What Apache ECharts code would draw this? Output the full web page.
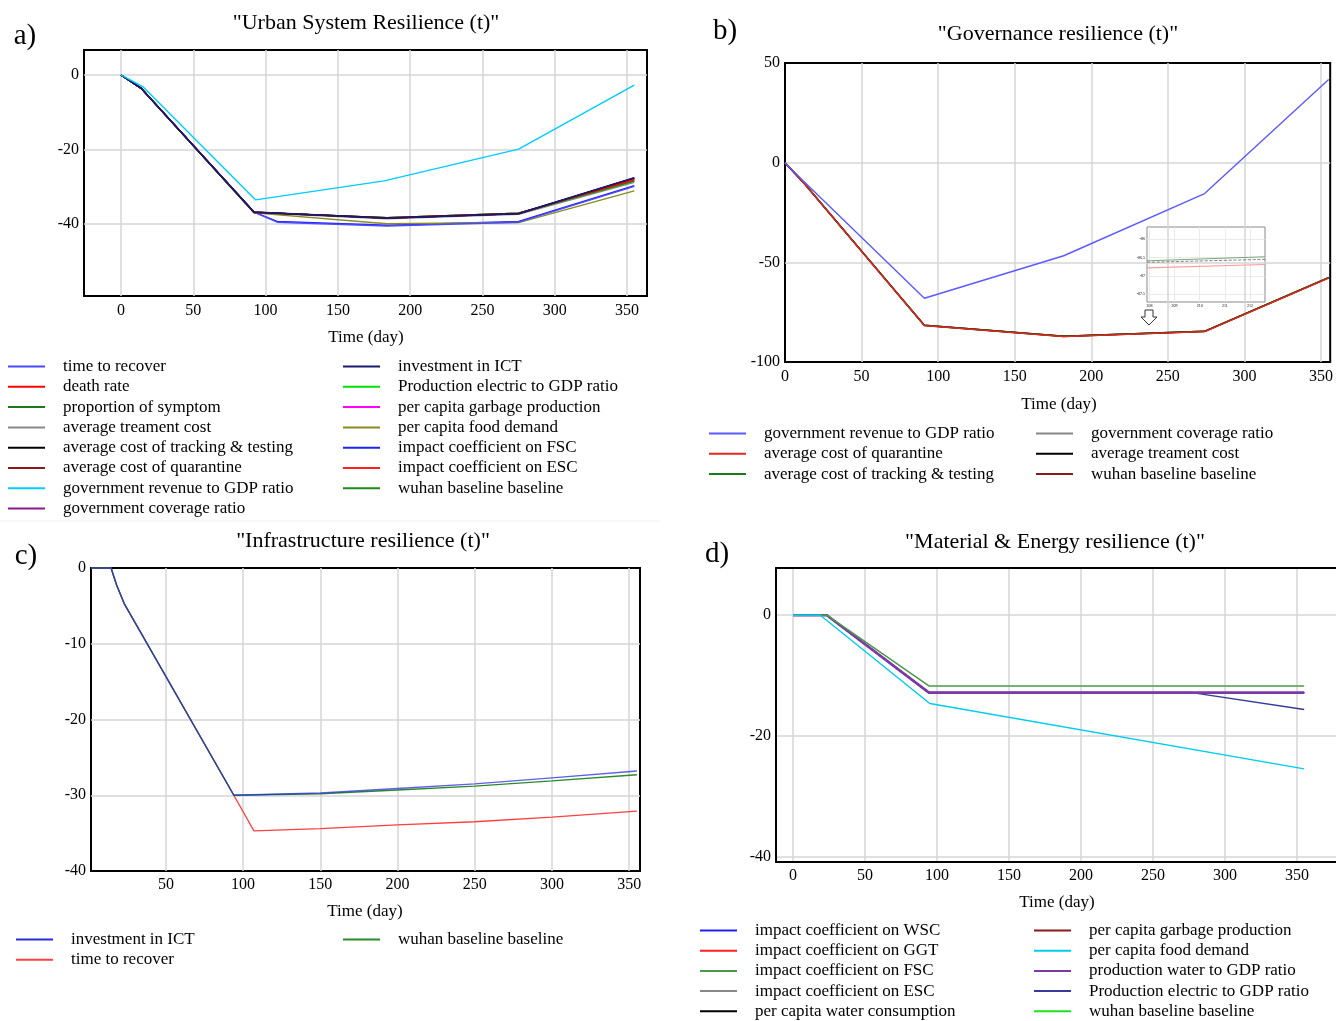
<!DOCTYPE html>
<html><head><meta charset="utf-8">
<script src="https://cdn.jsdelivr.net/npm/echarts@6/dist/echarts.min.js"></script>
<style>html,body{margin:0;padding:0;background:#fff}#c{width:1336px;height:1021px}</style>
</head><body><div id="c"></div>
<script>
// ---------- tick labels ----------
const TICKS_X = [0, 50, 100, 150, 200, 250, 300, 350];
const TICKS_X_C = [50, 100, 150, 200, 250, 300, 350];
const TICKS_Y_A = [-40, -20, 0];
const TICKS_Y_B = [-100, -50, 0, 50];
const TICKS_Y_C = [-40, -30, -20, -10, 0];
const TICKS_Y_D = [-40, -20, 0];
const TICKS_X_INSET = [208, 209, 210, 211, 212];
const TICKS_Y_INSET = [-87.5, -87, -86.5, -86];
// gridline positions where they differ from the labels (edge values sit on the frame)
const GRID_X_B = [50, 100, 150, 200, 250, 300, 350];
const GRID_Y_B = [-50, 0];
const GRID_Y_C = [-30, -20, -10];

// ---------- panel a : Urban System Resilience ----------
const A_DAYS = [0, 14, 92, 184, 275, 355];
const A_DAYS_LOW = [0, 14, 92, 108, 184, 275, 355];
const A_DAYS_CYAN = [0, 15, 93, 182, 275, 355];
const A_proportionSymptom = [0, -3.6, -36.9, -38.3, -37.1, -28.4];
const A_treatmentCost = [0, -3.6, -37.0, -38.6, -37.4, -28.8];
const A_quarantine = [0, -3.6, -36.8, -38.4, -37.2, -27.8];
const A_coverage = [0, -3.6, -36.8, -38.4, -37.2, -27.7];
const A_electric = [0, -3.6, -36.9, -38.3, -37.1, -28.5];
const A_garbage = [0, -3.6, -36.8, -38.4, -37.2, -27.8];
const A_ESC = [0, -3.6, -36.8, -38.4, -37.2, -28.0];
const A_FSC = [0, -3.6, -36.8, -39.3, -40.3, -39.3, -29.7];
const A_food = [0, -3.6, -37.0, -39.9, -39.6, -31.1];
const A_timeRecover = [0, -3.6, -36.8, -39.5, -40.5, -39.5, -29.9];
const A_baseline = [0, -3.6, -36.9, -38.3, -37.1, -28.5];
const A_deathRate = [0, -3.6, -36.9, -38.3, -37.1, -28.1];
const A_tracking = [0, -3.6, -36.8, -38.4, -37.2, -27.6];
const A_ICT = [0, -3.6, -36.8, -38.4, -37.2, -27.6];
const A_revenue = [0, -3.1, -33.5, -28.4, -19.9, -2.7];

// ---------- panel b : Governance resilience ----------
const B_DAYS = [0, 13, 91, 182, 274, 355];
const B_DAYS_BLUE = [0, 12, 91, 182, 274, 355];
const B_coverage = [0, -10.8, -81.6, -87.1, -84.6, -57.7];
const B_treatment = [0, -10.8, -81.6, -87.1, -84.6, -57.7];
const B_tracking = [0, -10.7, -81.5, -87.0, -84.5, -57.6];
const B_baseline = [0, -10.8, -81.7, -87.2, -84.7, -57.8];
const B_quarantine = [0, -10.9, -81.8, -87.3, -84.8, -57.9];
const B_revenue = [0, -9.2, -68.0, -46.7, -15.5, 41.7];
// inset (zoom of days 208-212)
const INSET_DAYS = [207.9, 212.6];
const INSET_green = [-86.59, -86.48];
const INSET_gray = [-86.63, -86.55];
const INSET_red = [-86.78, -86.69];

// ---------- panel c : Infrastructure resilience ----------
const C_DAYS = [1.5, 14.5, 18, 23, 94, 150, 200, 250, 300, 355];
const C_DAYS_RED = [1.5, 14.5, 18, 23, 94, 107, 150, 200, 250, 300, 355];
const C_ICT = [0, 0, -2.2, -4.7, -30, -29.7, -29.1, -28.5, -27.7, -26.8];
const C_baseline = [0, 0, -2.2, -4.7, -30, -29.8, -29.3, -28.8, -28.1, -27.3];
const C_timeRecover = [0, 0, -2.2, -4.7, -30, -34.7, -34.4, -33.9, -33.5, -32.9, -32.1];

// ---------- panel d : Material & Energy resilience ----------
const D_DAYS = [0, 23.5, 94.4, 355];
const D_DAYS_NAVY = [0, 23.5, 94.4, 277, 355];
const D_DAYS_CYAN = [0, 19, 95, 355];
const D_WSC = [0, 0, -12.8, -12.8];
const D_GGT = [0, 0, -12.8, -12.8];
const D_ESC = [0, 0, -12.8, -12.8];
const D_water = [0, 0, -12.8, -12.8];
const D_garbage = [0, 0, -12.8, -12.8];
const D_baseline = [0, 0, -12.8, -12.8];
const D_electric = [0, 0, -12.8, -12.8, -15.6];
const D_prodWater = [0, 0, -12.8, -12.8];
const D_FSC = [0, 0, -11.7, -11.7];
const D_food = [0, 0, -14.6, -25.4];

// ---------- legends (names) ----------
const LEG_A1 = ['time to recover#a','death rate#a','proportion of symptom#a','average treament cost#a','average cost of tracking & testing#a','average cost of quarantine#a','government revenue to GDP ratio#a','government coverage ratio#a'];
const LEG_A2 = ['investment in ICT#a','Production electric to GDP ratio#a','per capita garbage production#a','per capita food demand#a','impact coefficient on FSC#a','impact coefficient on ESC#a','wuhan baseline baseline#a'];
const LEG_B1 = ['government revenue to GDP ratio#b','average cost of quarantine#b','average cost of tracking & testing#b'];
const LEG_B2 = ['government coverage ratio#b','average treament cost#b','wuhan baseline baseline#b'];
const LEG_C1 = ['investment in ICT#c','time to recover#c'];
const LEG_C2 = ['wuhan baseline baseline#c'];
const LEG_D1 = ['impact coefficient on WSC#d','impact coefficient on GGT#d','impact coefficient on FSC#d','impact coefficient on ESC#d','per capita water consumption#d'];
const LEG_D2 = ['per capita garbage production#d','per capita food demand#d','production water to GDP ratio#d','Production electric to GDP ratio#d','wuhan baseline baseline#d'];

const FONT = 'Liberation Serif';
const zip = (xs, ys) => xs.map((x, i) => [x, ys[i]]);

function ln(name, g, days, vals, color, width, extra) {
  return Object.assign({
    type: 'line', name: name, xAxisIndex: g, yAxisIndex: g,
    data: zip(days, vals), symbol: 'none', showSymbol: false, silent: true,
    animation: false,
    lineStyle: { color: color, width: width || 1.4 },
    itemStyle: { color: color }
  }, extra || {});
}

function xAx(g, min, max, ticks, opt) {
  opt = opt || {};
  return {
    type: 'value', gridIndex: g, min: min, max: max,
    axisLine: opt.line ? { show: true, onZero: false, lineStyle: { color: '#000', width: 2 } } : { show: false },
    axisTick: { show: false, customValues: opt.grid || ticks },
    axisLabel: { customValues: ticks, color: '#000', fontFamily: FONT, fontSize: opt.fs || 16, margin: opt.margin || 7 },
    splitLine: { show: true, lineStyle: { color: opt.gc || '#d6d6d6', width: opt.gw || 1.5 } }
  };
}
function yAx(g, min, max, ticks, opt) {
  opt = opt || {};
  return {
    type: 'value', gridIndex: g, min: min, max: max,
    axisLine: opt.line ? { show: true, onZero: false, lineStyle: { color: '#000', width: 2 } } : { show: false },
    axisTick: { show: false, customValues: opt.grid || ticks },
    axisLabel: { customValues: ticks, color: '#000', fontFamily: FONT, fontSize: opt.fs || 16, margin: opt.margin || 5 },
    splitLine: { show: true, lineStyle: { color: opt.gc || '#d6d6d6', width: opt.gw || 1.5 } }
  };
}
function leg(names, left, top, gap) {
  return {
    orient: 'vertical', left: left, top: top, padding: 0, itemGap: gap || 3.3,
    itemWidth: 37, itemHeight: 2, icon: 'rect', data: names, selectedMode: false,
    formatter: n => n.split('#')[0],
    textStyle: { fontFamily: FONT, fontSize: 17, color: '#000', lineHeight: 17, padding: [0, 0, 0, 13] }
  };
}
function txt(t, x, y, size) {
  return { type: 'text', x: x, y: y, silent: true,
    style: { text: t, fontFamily: FONT, fontSize: size, fill: '#000',
      align: 'center', verticalAlign: 'middle', textAlign: 'center', textVerticalAlign: 'middle' } };
}

const gridBase = { show: true, backgroundColor: '#fff', borderColor: '#000', borderWidth: 2, containLabel: false };

const option = {
  animation: false,
  backgroundColor: '#fff',
  grid: [
    Object.assign({ left: 84, top: 50, width: 563, height: 246 }, gridBase),
    Object.assign({ left: 785, top: 63, width: 549, height: 299 }, gridBase),
    Object.assign({ left: 91, top: 568, width: 549, height: 303 }, gridBase),
    { show: true, backgroundColor: '#fff', borderWidth: 0, left: 776, top: 568, width: 560, height: 294 },
    { show: true, left: 1147, top: 227, width: 118, height: 75, backgroundColor: '#fff', borderColor: '#888', borderWidth: 1 }
  ],
  xAxis: [
    xAx(0, -25.6, 363.8, TICKS_X),
    xAx(1, 0, 356, TICKS_X, { grid: GRID_X_B }),
    xAx(2, 1.5, 357, TICKS_X_C, { margin: 6 }),
    xAx(3, -11.8, 377.1, TICKS_X, { margin: 6, line: true }),
    xAx(4, 207.9, 212.6, TICKS_X_INSET, { fs: 4, margin: 2, gc: '#e4e4e4', gw: 0.8 }),
    { type: 'value', gridIndex: 3, position: 'top', min: -11.8, max: 377.1,
      axisLine: { show: true, onZero: false, lineStyle: { color: '#000', width: 2 } },
      axisTick: { show: false }, axisLabel: { show: false }, splitLine: { show: false } }
  ],
  yAxis: [
    yAx(0, -59.3, 6.7, TICKS_Y_A),
    yAx(1, -100, 50, TICKS_Y_B, { grid: GRID_Y_B }),
    yAx(2, -40, 0, TICKS_Y_C, { grid: GRID_Y_C }),
    yAx(3, -40.8, 7.8, TICKS_Y_D, { line: true }),
    yAx(4, -87.71, -85.67, TICKS_Y_INSET, { fs: 4, margin: 2, gc: '#e4e4e4', gw: 0.8 })
  ],
  legend: [
    leg(LEG_A1, 8, 358), leg(LEG_A2, 343, 358),
    leg(LEG_B1, 709, 425), leg(LEG_B2, 1036, 425),
    leg(LEG_C1, 16, 931), leg(LEG_C2, 343, 931),
    leg(LEG_D1, 700, 922, 3.2), leg(LEG_D2, 1034, 922, 3.2)
  ],
  graphic: [
    txt('a)', 25, 36, 29), txt('b)', 725, 31, 29), txt('c)', 26, 556, 29), txt('d)', 717, 554, 29),
    txt('"Urban System Resilience (t)"', 366, 23, 22),
    txt('"Governance resilience (t)"', 1058, 34, 22),
    txt('"Infrastructure resilience (t)"', 363, 541, 22),
    txt('"Material & Energy resilience (t)"', 1055, 542, 22),
    txt('Time (day)', 366, 338, 17), txt('Time (day)', 1059, 405, 17),
    txt('Time (day)', 365, 912, 17), txt('Time (day)', 1057, 903, 17),
    { type: 'polygon', silent: true,
      shape: { points: [[1145,310],[1153,310],[1153,317],[1157,317],[1149,325],[1141,317],[1145,317]] },
      style: { fill: '#fff', stroke: '#333', lineWidth: 1 } },
    { type: 'line', silent: true, shape: { x1: 0, y1: 521, x2: 660, y2: 521 }, style: { stroke: '#f0f0f0', lineWidth: 1 } }
  ],
  series: [
    // panel a
    ln('proportion of symptom#a', 0, A_DAYS, A_proportionSymptom, '#1a7a1a'),
    ln('average treament cost#a', 0, A_DAYS, A_treatmentCost, '#888888'),
    ln('average cost of quarantine#a', 0, A_DAYS, A_quarantine, '#8b1a1a'),
    ln('government coverage ratio#a', 0, A_DAYS, A_coverage, '#8a1a8a'),
    ln('Production electric to GDP ratio#a', 0, A_DAYS, A_electric, '#00e000'),
    ln('per capita garbage production#a', 0, A_DAYS, A_garbage, '#ff00ff'),
    ln('impact coefficient on ESC#a', 0, A_DAYS, A_ESC, '#ff2020'),
    ln('impact coefficient on FSC#a', 0, A_DAYS_LOW, A_FSC, '#2020ff'),
    ln('per capita food demand#a', 0, A_DAYS, A_food, '#8a8a20'),
    ln('time to recover#a', 0, A_DAYS_LOW, A_timeRecover, '#4a4aff'),
    ln('wuhan baseline baseline#a', 0, A_DAYS, A_baseline, '#1a8a1a'),
    ln('death rate#a', 0, A_DAYS, A_deathRate, '#ff0000'),
    ln('average cost of tracking & testing#a', 0, A_DAYS, A_tracking, '#000000'),
    ln('investment in ICT#a', 0, A_DAYS, A_ICT, '#1a1a70', 1.6),
    ln('government revenue to GDP ratio#a', 0, A_DAYS_CYAN, A_revenue, '#00ccff'),
    // panel b
    ln('government coverage ratio#b', 1, B_DAYS, B_coverage, '#888888'),
    ln('average treament cost#b', 1, B_DAYS, B_treatment, '#000000'),
    ln('average cost of tracking & testing#b', 1, B_DAYS, B_tracking, '#1a7a1a'),
    ln('wuhan baseline baseline#b', 1, B_DAYS, B_baseline, '#8b1a1a', 1.6),
    ln('average cost of quarantine#b', 1, B_DAYS, B_quarantine, '#e02a1a', 1.2),
    ln('government revenue to GDP ratio#b', 1, B_DAYS_BLUE, B_revenue, '#5a5aff'),
    // inset
    ln('inset green', 4, INSET_DAYS, INSET_green, '#7aa87a', 1),
    ln('inset gray', 4, INSET_DAYS, INSET_gray, '#666666', 0.8, { lineStyle: { color: '#666', width: 0.8, type: 'dashed' } }),
    ln('inset red', 4, INSET_DAYS, INSET_red, '#ff9a9a', 1.2),
    // panel c
    ln('time to recover#c', 2, C_DAYS_RED, C_timeRecover, '#ff4040', 1.3),
    ln('wuhan baseline baseline#c', 2, C_DAYS, C_baseline, '#2a8a2a', 1.4),
    ln('investment in ICT#c', 2, C_DAYS, C_ICT, '#2a2ae0', 1.4, { lineStyle: { color: '#2a2ae0', width: 1.4, opacity: 0.75 } }),
    // panel d
    ln('impact coefficient on WSC#d', 3, D_DAYS, D_WSC, '#2020ff'),
    ln('impact coefficient on GGT#d', 3, D_DAYS, D_GGT, '#ff2020'),
    ln('impact coefficient on ESC#d', 3, D_DAYS, D_ESC, '#888888'),
    ln('per capita water consumption#d', 3, D_DAYS, D_water, '#000000'),
    ln('per capita garbage production#d', 3, D_DAYS, D_garbage, '#8b1a1a'),
    ln('wuhan baseline baseline#d', 3, D_DAYS, D_baseline, '#20e020'),
    ln('Production electric to GDP ratio#d', 3, D_DAYS_NAVY, D_electric, '#3a3a9a', 1.5),
    ln('production water to GDP ratio#d', 3, D_DAYS, D_prodWater, '#7a3aa8', 2.6),
    ln('impact coefficient on FSC#d', 3, D_DAYS, D_FSC, '#4a9a4a', 1.5),
    ln('per capita food demand#d', 3, D_DAYS_CYAN, D_food, '#00ccee', 1.4)
  ]
};

const chart = echarts.init(document.getElementById('c'), null, { renderer: 'canvas' });
chart.setOption(option);
</script></body></html>
